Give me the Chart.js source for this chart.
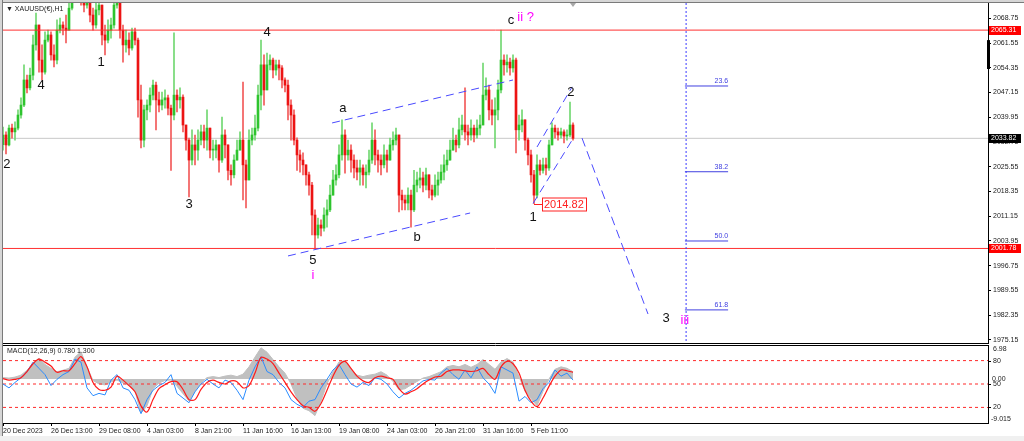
<!DOCTYPE html>
<html>
<head>
<meta charset="utf-8">
<title>XAUUSD H1</title>
<script src="https://cdn.jsdelivr.net/npm/chart.js@4.4.1/dist/chart.umd.min.js"></script>
<style>
    html, body { margin: 0; padding: 0; background: #fff; }
    body { width: 1024px; height: 441px; position: relative; overflow: hidden; font-family: "Liberation Sans", Arial, sans-serif; }
    #mainChart { position: absolute; left: 0; top: 0; width: 1024px; height: 344px; }
    #macdChart { position: absolute; left: 0; top: 344px; width: 1024px; height: 97px; }
    .frame-top { position: absolute; left: 0; top: 0; width: 1024px; height: 2px; background: #d6d6d6; border-bottom: 1px solid #7a7a7a; }
    .frame-left { position: absolute; left: 0; top: 0; width: 2px; height: 436px; background: #d6d6d6; border-right: 1px solid #7a7a7a; }
    .status { position: absolute; left: 0; top: 436px; width: 1024px; height: 5px; background: #f0f0f0; }
    #title { position: absolute; left: 6px; top: 5px; font-size: 7px; color: #222; white-space: nowrap; }
</style>
</head>
<body>
<canvas id="mainChart" width="1024" height="344"></canvas>
<canvas id="macdChart" width="1024" height="97"></canvas>
<div class="frame-top"></div>
<div class="frame-left"></div>
<div class="status"></div>
<div id="title">&#9660; XAUUSD(&#8364;),H1</div>
<script>
// Ejes
const priceTicks = [2068.75, 2061.55, 2054.35, 2047.15, 2039.95, 2032.75, 2025.55, 2018.35, 2011.15, 2003.95, 1996.75, 1989.55, 1982.35, 1975.15];
const timeLabels = ['20 Dec 2023', '26 Dec 13:00', '29 Dec 08:00', '4 Jan 03:00', '8 Jan 21:00', '11 Jan 16:00', '16 Jan 13:00', '19 Jan 08:00', '24 Jan 03:00', '26 Jan 21:00', '31 Jan 16:00', '5 Feb 11:00'];
const timeTickSlots = [0, 16, 32, 48, 64, 80, 96, 112, 128, 144, 160, 176];

// Velas (4h por vela), la apertura es el cierre anterior
const firstOpen = 2032.0;
const closes = [
    2034.8, 2031.9, 2036.8, 2035.7, 2036.8, 2040.6, 2043.5, 2050.8, 2048.5, 2052.2,
    2061.0, 2066.8, 2056.6, 2053.1, 2062.4, 2063.9, 2058.1, 2056.6, 2065.3, 2066.8,
    2065.9, 2065.3, 2071.7, 2075.5, 2077.0, 2076.4, 2075.5, 2072.6, 2073.5, 2069.7,
    2066.8, 2071.2, 2072.6, 2063.9, 2062.4, 2065.3, 2066.8, 2072.6, 2075.5, 2065.3,
    2061.0, 2062.4, 2060.1, 2064.8, 2062.4, 2045.0, 2033.3, 2042.1, 2043.5, 2046.4,
    2049.3, 2045.0, 2043.5, 2045.0, 2045.6, 2042.6, 2040.6, 2046.4, 2045.0, 2045.8,
    2037.7, 2033.3, 2027.5, 2031.9, 2030.4, 2033.3, 2035.7, 2033.3, 2036.8, 2030.4,
    2030.4, 2031.9, 2027.5, 2034.8, 2031.9, 2024.5, 2023.2, 2027.5, 2030.4, 2033.3,
    2026.1, 2021.7, 2033.3, 2034.8, 2036.8, 2046.4, 2055.2, 2047.9, 2055.2, 2056.6,
    2053.7, 2055.2, 2054.3, 2050.8, 2049.3, 2043.5, 2040.6, 2033.3, 2029.0, 2027.5,
    2026.1, 2023.2, 2020.2, 2011.5, 2005.7, 2008.6, 2007.7, 2011.5, 2013.0, 2017.3,
    2021.7, 2023.2, 2029.0, 2034.8, 2029.0, 2030.4, 2027.5, 2025.2, 2024.0, 2025.2,
    2023.2, 2024.0, 2027.5, 2033.3, 2029.0, 2027.5, 2026.1, 2029.0, 2027.5, 2031.9,
    2033.3, 2034.8, 2017.3, 2015.9, 2015.0, 2017.3, 2013.0, 2020.2, 2021.7, 2022.3,
    2020.2, 2023.2, 2018.8, 2017.3, 2020.2, 2021.7, 2024.0, 2026.1, 2027.5, 2030.4,
    2033.3, 2031.9, 2036.3, 2037.7, 2035.7, 2034.8, 2036.8, 2034.8, 2036.8, 2037.7,
    2046.4, 2047.9, 2042.1, 2040.6, 2042.1, 2047.9, 2056.6, 2055.2, 2056.0, 2054.3,
    2056.6, 2036.3, 2037.7, 2039.2, 2033.3, 2029.0, 2023.2, 2017.3, 2026.1, 2024.5,
    2026.1, 2025.2, 2031.9, 2036.8, 2035.7, 2034.8, 2035.7, 2034.5, 2034.8, 2037.7,
    2033.82
];
const highs = [
    2037.1, 2035.7, 2037.7, 2038.0, 2038.6, 2042.1, 2045.6, 2055.2, 2052.2, 2054.3,
    2063.9, 2070.3, 2066.8, 2061.0, 2064.8, 2065.3, 2064.8, 2061.0, 2068.3, 2068.8,
    2067.7, 2069.7, 2074.1, 2077.0, 2079.9, 2079.3, 2078.4, 2075.5, 2076.4, 2074.1,
    2071.7, 2073.2, 2074.9, 2072.6, 2066.8, 2068.3, 2068.8, 2075.5, 2077.6, 2076.0,
    2066.8, 2065.3, 2064.5, 2065.9, 2065.9, 2063.0, 2049.3, 2043.5, 2045.0, 2048.5,
    2050.8, 2050.2, 2047.3, 2047.3, 2047.9, 2046.4, 2043.5, 2064.5, 2047.9, 2048.5,
    2046.5, 2037.7, 2033.9, 2036.3, 2034.8, 2036.3, 2037.7, 2037.7, 2042.1, 2036.8,
    2033.3, 2033.3, 2031.9, 2040.0, 2036.3, 2031.9, 2026.1, 2029.0, 2033.3, 2035.7,
    2050.2, 2027.5, 2036.3, 2036.8, 2040.6, 2049.3, 2062.4, 2058.1, 2058.6, 2058.1,
    2057.2, 2056.6, 2056.6, 2055.0, 2051.4, 2050.8, 2045.0, 2042.1, 2034.0, 2030.4,
    2029.6, 2026.1, 2024.0, 2021.0, 2013.0, 2010.6, 2010.1, 2013.6, 2015.9, 2020.2,
    2024.5, 2026.1, 2031.9, 2039.2, 2036.3, 2033.3, 2031.9, 2029.0, 2027.5, 2027.5,
    2026.1, 2026.1, 2030.4, 2038.3, 2036.3, 2030.4, 2029.0, 2031.9, 2030.4, 2033.9,
    2035.7, 2036.8, 2034.8, 2018.8, 2017.3, 2019.4, 2018.8, 2024.5, 2024.0, 2025.2,
    2024.0, 2025.2, 2023.2, 2020.2, 2023.2, 2024.0, 2026.1, 2029.0, 2030.4, 2033.3,
    2036.8, 2034.8, 2039.7, 2040.6, 2048.5, 2037.7, 2039.2, 2037.7, 2039.2, 2040.6,
    2055.7, 2051.4, 2049.3, 2045.0, 2045.6, 2050.8, 2065.31, 2058.1, 2058.1, 2057.2,
    2058.1, 2057.2, 2040.6, 2042.1, 2039.2, 2033.9, 2030.4, 2024.5, 2029.0, 2027.5,
    2028.1, 2028.1, 2033.3, 2038.3, 2037.7, 2036.8, 2036.8, 2036.3, 2036.3, 2044.4,
    2038.3
];
const lows = [
    2030.4, 2029.3, 2031.6, 2033.9, 2033.3, 2036.3, 2039.7, 2043.0, 2047.0, 2047.9,
    2050.8, 2059.5, 2053.1, 2050.8, 2052.5, 2061.9, 2056.6, 2054.6, 2055.5, 2064.5,
    2063.9, 2061.6, 2065.3, 2071.2, 2074.1, 2073.5, 2072.6, 2070.6, 2071.7, 2067.7,
    2065.3, 2065.9, 2069.7, 2061.0, 2058.1, 2061.6, 2063.0, 2065.9, 2071.7, 2063.0,
    2056.0, 2058.9, 2058.1, 2059.5, 2061.0, 2040.0, 2031.0, 2031.3, 2039.2, 2041.5,
    2045.0, 2036.3, 2041.5, 2042.1, 2042.6, 2040.6, 2024.5, 2039.2, 2041.5, 2042.6,
    2035.7, 2030.4, 2016.8, 2026.1, 2026.1, 2027.5, 2031.9, 2031.0, 2030.4, 2028.1,
    2027.5, 2028.1, 2024.0, 2026.8, 2028.1, 2021.7, 2020.2, 2022.3, 2027.5, 2030.4,
    2015.9, 2013.6, 2021.7, 2031.9, 2033.3, 2036.0, 2042.1, 2043.5, 2047.9, 2053.7,
    2051.4, 2052.2, 2050.8, 2048.5, 2047.3, 2039.2, 2033.3, 2031.9, 2024.5, 2024.0,
    2023.2, 2020.2, 2017.3, 2005.7, 2001.78, 2004.8, 2005.4, 2006.8, 2008.0, 2012.5,
    2017.3, 2020.2, 2022.3, 2027.5, 2023.7, 2027.5, 2024.0, 2022.3, 2021.7, 2020.2,
    2020.2, 2019.4, 2023.2, 2026.5, 2026.1, 2024.0, 2023.2, 2025.2, 2024.0, 2027.5,
    2030.4, 2031.9, 2012.4, 2013.0, 2013.0, 2013.0, 2008.0, 2012.5, 2018.2, 2019.4,
    2018.2, 2018.8, 2016.5, 2015.9, 2016.8, 2017.3, 2020.8, 2021.7, 2024.5, 2027.5,
    2030.4, 2029.9, 2031.0, 2034.8, 2033.3, 2031.9, 2033.3, 2032.8, 2033.9, 2034.8,
    2037.7, 2045.0, 2039.2, 2037.7, 2031.0, 2039.2, 2047.0, 2052.2, 2053.1, 2052.2,
    2053.1, 2029.6, 2033.3, 2035.7, 2030.4, 2026.1, 2021.1, 2014.82, 2016.5, 2023.2,
    2023.7, 2023.2, 2024.5, 2031.9, 2033.9, 2033.3, 2033.9, 2032.5, 2033.3, 2034.2,
    2033.3
];

// Niveles horizontales
const resistanceLevel = 2065.31;
const supportLevel = 2001.78;
const lastPrice = 2033.82;
const waveOneLow = 2014.82;
const waveOneLowSlot = 177;

// Etiquetas de ondas (slot de 4h, precio)
const waveText   = ['2', '4', '1', '3', '4', '5', 'i', 'a', 'b', 'c', 'ii ?', '2', '1', '3', 'iii'];
const waveDegree = ['minor', 'minor', 'minor', 'minor', 'minor', 'minor', 'minute', 'minor', 'minor', 'minor', 'minute', 'minor', 'minor', 'minor', 'minute'];
const waveSlot   = [1.3, 12.7, 32.7, 62, 88, 103.3, 103.3, 113.3, 138, 169.3, 174.2, 189.3, 176.7, 221, 227.3];
const wavePrice  = [2026.1, 2049.1, 2056.0, 2014.7, 2064.5, 1998.3, 1993.8, 2042.6, 2005.1, 2068.0, 2069.1, 2047.2, 2010.9, 1981.5, 1980.7];

// Lineas de tendencia [slotA, precioA, slotB, precioB]
const channelTop    = [109.7, 2038.3, 170.0, 2050.8];
const channelBottom = [95.0, 1999.6, 155.7, 2012.1];
const wedgeTop      = [178.0, 2031.3, 189.7, 2048.8];
const wedgeBottom   = [176.7, 2014.9, 189.7, 2033.3];
const projection    = [193.0, 2033.9, 215.0, 1982.7];

// Fibonacci
const fibLabels = ['23.6', '38.2', '50.0', '61.8'];
const fibPrices = [2049.05, 2024.1, 2003.95, 1983.9];
const fibStartSlot = 227.3;
const fibEndSlot = 241.7;
const timeLineSlot = 227.7;

// MACD, un punto cada 2 slots
const macdHist = [
    0.3, 0.2, 0.4, 0.8, 1.8, 3.2, 4.3, 3.0, 2.2, 1.5,
    1.8, 2.2, 4.5, 5.6, 2.5, -0.3, -1.0, -1.2, -0.6, -0.2,
    -0.8, -1.3, -2.5, -7.0, -5.5, -2.0, -0.8, -0.3, -0.2, -1.5,
    -3.0, -4.5, -2.5, -0.8, 0.3, 0.5, 0.3, 0.6, 0.8, 0.5,
    1.0, 2.5, 4.5, 6.4, 5.5, 4.0, 2.5, 1.2, -1.0, -4.0,
    -6.0, -6.5, -7.5, -4.5, -1.0, 1.5, 3.5, 3.8, 2.0, 0.8,
    0.5, 0.8, 1.0, 1.5, 0.8, -0.5, -2.2, -2.0, -1.2, -0.5,
    0.2, 0.5, 1.0, 1.5, 2.5, 2.8, 2.5, 3.0, 2.4, 3.0,
    4.0, 3.0, 2.0, 3.5, 4.2, 3.5, 0.5, -2.5, -4.0, -5.5,
    -2.5, 0.0, 2.0, 2.5, 2.2, 1.5
];
const oscMain = [
    50, 45, 52, 58, 66, 78, 70, 62, 48, 56,
    62, 66, 82, 78, 45, 35, 38, 36, 55, 62,
    45, 42, 30, 12, 30, 42, 48, 52, 62, 38,
    32, 26, 40, 50, 56, 50, 45, 55, 52, 42,
    30, 55, 72, 85, 66, 62, 52, 45, 30, 24,
    20, 28, 30, 45, 56, 68, 75, 62, 50, 46,
    52, 48, 58, 56, 50, 40, 32, 38, 42, 48,
    54, 56, 55, 64, 70, 62, 56, 68, 58, 72,
    58, 50, 38, 72, 68, 64, 28, 34, 26, 30,
    44, 52, 68, 60, 64, 55
];
const oscSignal = [
    57, 55, 56, 58, 66, 76, 82, 78, 73, 65,
    67, 67, 76, 85, 72, 52, 43, 42, 46, 60,
    55, 48, 40, 22, 14, 30, 44, 49, 53, 53,
    43, 30, 30, 43, 52, 55, 52, 50, 54, 53,
    45, 48, 64, 84, 82, 76, 64, 52, 40, 30,
    22, 20, 15, 25, 42, 60, 74, 79, 70, 60,
    54, 52, 58, 60, 58, 56, 44, 37, 40, 44,
    50, 55, 59, 60, 66, 68, 68, 67, 66, 67,
    70, 62, 56, 72, 79, 76, 64, 42, 28, 21,
    32, 47, 60, 68, 67, 65
];
const oscLevels = [80, 50, 20];
const macdMax = 6.98;
const macdMin = -9.015;
const macdTitle = 'MACD(12,26,9) 0.780 1.300';

// Escalas
const SLOT_MIN = 0;
const SLOT_MAX = 328.33;
const PRICE_MIN = 1974.27;
const PRICE_MAX = 2073.2;

const FONT = '"Liberation Sans", Arial, sans-serif';
Chart.defaults.font.family = FONT;
Chart.defaults.font.size = 7;
Chart.defaults.color = '#222';

const BULL = '#2ec42e';
const BEAR = '#ec1414';
const BULL_WICK = '#72d872';
const BEAR_WICK = '#f25a5a';
const WAVE_BLUE = '#4a4aff';

const opens = closes.map((c, i) => i === 0 ? firstOpen : closes[i - 1]);

// sin relleno extra por las etiquetas de los ejes
function noLabelPadding(s) {
    s.paddingTop = 0;
    s.paddingBottom = 0;
    s.paddingLeft = 0;
    s.paddingRight = 0;
}

function segment(pts, color, dash, order) {
    return {
        type: 'line',
        data: [{ x: pts[0], y: pts[1] }, { x: pts[2], y: pts[3] }],
        borderColor: color,
        borderWidth: 1,
        borderDash: dash || [],
        pointRadius: 0,
        fill: false,
        order: order || 1,
        clip: 0
    };
}

const mainPlugin = {
    id: 'mainAnnotations',
    afterDraw(chart) {
        const { ctx, chartArea, scales: { x, y } } = chart;
        ctx.save();

        // borde inferior
        ctx.strokeStyle = '#000';
        ctx.lineWidth = 1;
        ctx.beginPath();
        ctx.moveTo(chartArea.left, chartArea.bottom + 0.5);
        ctx.lineTo(chartArea.right, chartArea.bottom + 0.5);
        ctx.stroke();

        // etiquetas de ondas
        ctx.textAlign = 'center';
        ctx.textBaseline = 'middle';
        ctx.font = '13px ' + FONT;
        waveText.forEach((t, i) => {
            ctx.fillStyle = waveDegree[i] === 'minute' ? '#ff00ff' : '#111';
            ctx.fillText(t, x.getPixelForValue(waveSlot[i]), y.getPixelForValue(wavePrice[i]));
        });

        // textos fibonacci
        ctx.font = '7px ' + FONT;
        ctx.fillStyle = '#4040e0';
        ctx.textAlign = 'right';
        ctx.textBaseline = 'bottom';
        fibLabels.forEach((t, i) => {
            ctx.fillText(t, x.getPixelForValue(fibEndSlot), y.getPixelForValue(fibPrices[i]) - 1);
        });

        // caja 2014.82
        const ly = Math.round(y.getPixelForValue(waveOneLow)) + 0.5;
        const lx = x.getPixelForValue(waveOneLowSlot);
        const bx = lx + 8;
        ctx.strokeStyle = '#ff2020';
        ctx.beginPath();
        ctx.moveTo(lx, ly);
        ctx.lineTo(bx, ly);
        ctx.stroke();
        ctx.font = '11px ' + FONT;
        const label = waveOneLow.toFixed(2);
        const w = ctx.measureText(label).width + 4;
        ctx.fillStyle = '#fff';
        ctx.fillRect(bx, ly - 6.5, w, 13);
        ctx.strokeRect(Math.round(bx) + 0.5, ly - 6.5, Math.round(w), 13);
        ctx.fillStyle = '#ff2020';
        ctx.textAlign = 'left';
        ctx.textBaseline = 'middle';
        ctx.fillText(label, bx + 2, ly + 0.5);

        // cajas de precio en el eje
        ctx.font = '7px ' + FONT;
        [[resistanceLevel, '#ff0000'], [lastPrice, '#000000'], [supportLevel, '#ff0000']].forEach(([p, bg]) => {
            const py = Math.round(y.getPixelForValue(p));
            ctx.fillStyle = bg;
            ctx.fillRect(chartArea.right + 1, py - 4, 32, 9);
            ctx.fillStyle = '#fff';
            ctx.fillText(p.toFixed(2), chartArea.right + 3, py + 0.5);
        });

        // marcador de desplazamiento
        ctx.fillStyle = '#000';
        ctx.fillRect(chartArea.right - 1, y.getPixelForValue(2062.4), 3, y.getPixelForValue(2054.0) - y.getPixelForValue(2062.4));
        ctx.fillStyle = '#a8a8a8';
        const tx = x.getPixelForValue(190);
        ctx.beginPath();
        ctx.moveTo(tx - 3, chartArea.top);
        ctx.lineTo(tx + 3, chartArea.top);
        ctx.lineTo(tx, chartArea.top + 4);
        ctx.closePath();
        ctx.fill();

        ctx.restore();
    }
};

const mainDatasets = [
    segment([SLOT_MIN, resistanceLevel, SLOT_MAX, resistanceLevel], '#ff3030', [], 2),
    segment([SLOT_MIN, supportLevel, SLOT_MAX, supportLevel], '#ff3030', [], 2),
    segment([SLOT_MIN, lastPrice, SLOT_MAX, lastPrice], '#c8c8c8', [], 9),
    segment(channelTop, WAVE_BLUE, [8, 5]),
    segment(channelBottom, WAVE_BLUE, [8, 5]),
    segment(wedgeTop, WAVE_BLUE, [8, 5]),
    segment(wedgeBottom, WAVE_BLUE, [8, 5]),
    segment(projection, WAVE_BLUE, [9, 5]),
    segment([timeLineSlot, PRICE_MAX, timeLineSlot, PRICE_MIN], '#3a3aff', [2, 2]),
    ...fibPrices.map(p => segment([fibStartSlot, p, fibEndSlot, p], '#4040e0', [])),
    {
        type: 'bar',
        label: 'wicks',
        data: closes.map((c, i) => ({ x: i, y: [lows[i], highs[i]] })),
        backgroundColor: closes.map((c, i) => c >= opens[i] ? BULL_WICK : BEAR_WICK),
        barThickness: 1,
        grouped: false,
        order: 6,
        clip: 0
    },
    {
        type: 'bar',
        label: 'bodies',
        data: closes.map((c, i) => ({ x: i, y: [opens[i], c] })),
        backgroundColor: closes.map((c, i) => c >= opens[i] ? BULL : BEAR),
        barThickness: 2,
        minBarLength: 1,
        grouped: false,
        order: 5,
        clip: 0
    }
];

new Chart(document.getElementById('mainChart'), {
    type: 'bar',
    data: { datasets: mainDatasets },
    options: {
        responsive: false,
        animation: false,
        events: [],
        layout: { padding: { left: 3, top: 3, right: 0, bottom: 1 } },
        plugins: { legend: { display: false }, tooltip: { enabled: false } },
        scales: {
            x: {
                type: 'linear',
                display: false,
                min: SLOT_MIN,
                max: SLOT_MAX,
                offset: false,
                grid: { offset: false }
            },
            y: {
                position: 'right',
                min: PRICE_MIN,
                max: PRICE_MAX,
                afterFit: s => { s.width = 36; noLabelPadding(s); },
                afterBuildTicks: s => { s.ticks = priceTicks.map(v => ({ value: v })); },
                ticks: {
                    padding: 2,
                    color: '#222',
                    font: { size: 7 },
                    callback: v => v.toFixed(2)
                },
                grid: { drawOnChartArea: false, drawTicks: true, tickLength: 3, color: '#000' },
                border: { display: true, color: '#000' }
            }
        }
    },
    plugins: [mainPlugin]
});

// Panel MACD
const macdPlugin = {
    id: 'macdAnnotations',
    afterDraw(chart) {
        const { ctx, chartArea, scales: { yo } } = chart;
        ctx.save();
        ctx.strokeStyle = '#000';
        ctx.lineWidth = 1;
        ctx.beginPath();
        ctx.moveTo(chartArea.left, chartArea.top + 0.5);
        ctx.lineTo(chartArea.right, chartArea.top + 0.5);
        ctx.stroke();
        ctx.font = '7px ' + FONT;
        ctx.fillStyle = '#222';
        ctx.textAlign = 'left';
        ctx.textBaseline = 'middle';
        ctx.fillText(macdTitle, chartArea.left + 4, chartArea.top + 6);
        ctx.fillText(macdMax.toFixed(2), chartArea.right + 5, chartArea.top + 4);
        ctx.fillText(macdMin.toFixed(3), chartArea.right + 3, chartArea.bottom - 4);
        // niveles del oscilador
        oscLevels.forEach(l => {
            const py = Math.round(yo.getPixelForValue(l)) + 0.5;
            ctx.beginPath();
            ctx.moveTo(chartArea.right, py);
            ctx.lineTo(chartArea.right + 3, py);
            ctx.stroke();
            ctx.fillText(String(l), chartArea.right + 5, py);
        });
        ctx.restore();
    }
};

new Chart(document.getElementById('macdChart'), {
    type: 'line',
    data: {
        datasets: [
            {
                label: 'Histograma',
                data: macdHist.map((v, k) => ({ x: 2 * k, y: v })),
                yAxisID: 'yh',
                borderColor: '#c0c0c0',
                borderWidth: 1,
                backgroundColor: '#c0c0c0',
                fill: 'origin',
                pointRadius: 0,
                tension: 0,
                order: 4,
                clip: 0
            },
            ...oscLevels.map(l => ({
                data: [{ x: SLOT_MIN, y: l }, { x: SLOT_MAX, y: l }],
                yAxisID: 'yo',
                borderColor: '#ff2a2a',
                borderWidth: 1,
                borderDash: [3, 3],
                pointRadius: 0,
                fill: false,
                order: 3,
                clip: 0
            })),
            {
                label: 'Main',
                data: oscMain.map((v, k) => ({ x: 2 * k, y: v })),
                yAxisID: 'yo',
                borderColor: '#2a8cff',
                borderWidth: 1,
                pointRadius: 0,
                fill: false,
                order: 2,
                clip: 0
            },
            {
                label: 'Signal',
                data: oscSignal.map((v, k) => ({ x: 2 * k, y: v })),
                yAxisID: 'yo',
                borderColor: '#ff1a1a',
                borderWidth: 1.2,
                pointRadius: 0,
                fill: false,
                tension: 0.3,
                order: 1,
                clip: 0
            }
        ]
    },
    options: {
        responsive: false,
        animation: false,
        events: [],
        layout: { padding: { left: 3, top: 1, right: 0, bottom: 0 } },
        plugins: { legend: { display: false }, tooltip: { enabled: false } },
        scales: {
            x: {
                type: 'linear',
                min: SLOT_MIN,
                max: SLOT_MAX,
                offset: false,
                afterFit: s => { s.height = 18; noLabelPadding(s); },
                afterBuildTicks: s => { s.ticks = timeTickSlots.map(v => ({ value: v })); },
                ticks: {
                    align: 'start',
                    autoSkip: false,
                    maxRotation: 0,
                    padding: 1,
                    color: '#222',
                    font: { size: 7 },
                    callback: (v, i) => timeLabels[i]
                },
                grid: { drawOnChartArea: false, drawTicks: true, tickLength: 3, color: '#000' },
                border: { display: true, color: '#000' }
            },
            yo: {
                position: 'right',
                display: false,
                min: 0,
                max: 100
            },
            yh: {
                position: 'right',
                min: macdMin,
                max: macdMax,
                afterFit: s => { s.width = 36; noLabelPadding(s); },
                afterBuildTicks: s => { s.ticks = [{ value: 0 }]; },
                ticks: { padding: 4, color: '#222', font: { size: 7 }, callback: v => v.toFixed(2) },
                grid: { drawOnChartArea: false, drawTicks: false, color: '#000' },
                border: { display: true, color: '#000' }
            }
        }
    },
    plugins: [macdPlugin]
});
</script>
</body>
</html>
